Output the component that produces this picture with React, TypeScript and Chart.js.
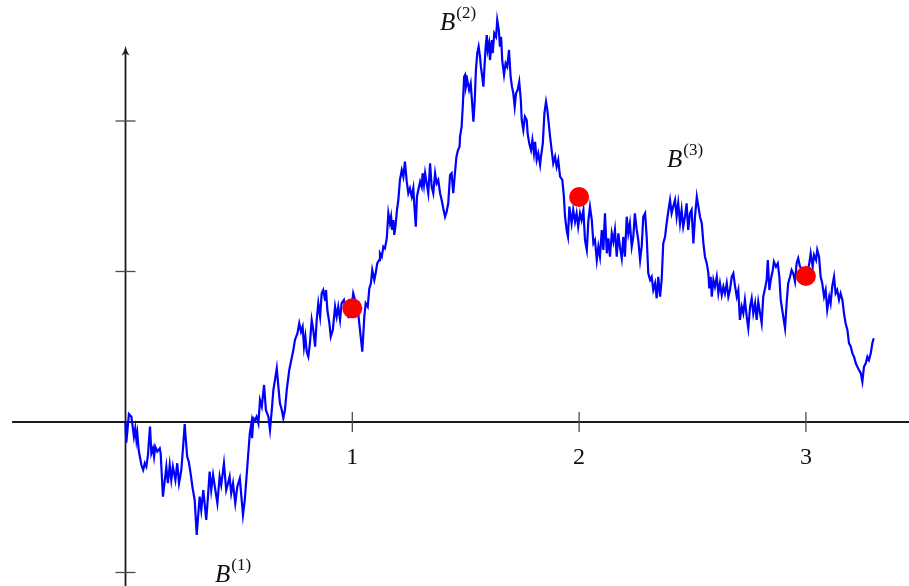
import React, { useEffect, useRef } from "react";
import { Chart, registerables } from "chart.js";

Chart.register(...registerables);

// Sample path of a Brownian motion B(t), t in [0, 3.3]
const brownianPath: [number, number][] = [
  [0, 0], [0.0035, -0.138], [0.015, 0.053], [0.026, 0.035], [0.037, -0.098], [0.043, -0.042], [0.048, -0.12], [0.052, -0.075], [0.058, -0.186], [0.07, -0.286], [0.078, -0.319],
  [0.085, -0.274], [0.092, -0.297], [0.099, -0.219], [0.108, -0.031], [0.114, -0.208], [0.121, -0.175], [0.126, -0.231], [0.131, -0.164], [0.14, -0.197], [0.151, -0.175],
  [0.155, -0.208], [0.165, -0.496], [0.18, -0.297], [0.187, -0.407], [0.195, -0.286], [0.202, -0.385], [0.209, -0.297], [0.22, -0.385], [0.228, -0.274], [0.236, -0.407],
  [0.246, -0.319], [0.254, -0.164], [0.261, -0.013], [0.265, -0.098], [0.272, -0.231], [0.279, -0.264], [0.287, -0.341], [0.296, -0.441], [0.305, -0.518], [0.314, -0.751],
  [0.32, -0.629], [0.327, -0.496], [0.334, -0.585], [0.343, -0.452], [0.356, -0.651], [0.364, -0.485], [0.371, -0.33], [0.378, -0.452], [0.386, -0.352], [0.405, -0.54],
  [0.415, -0.363], [0.422, -0.419], [0.434, -0.274], [0.444, -0.452], [0.452, -0.407], [0.459, -0.363], [0.466, -0.474], [0.474, -0.407], [0.484, -0.54], [0.493, -0.43],
  [0.504, -0.374], [0.518, -0.618], [0.526, -0.518], [0.537, -0.297], [0.548, -0.075], [0.555, -0.009], [0.558, -0.108], [0.564, 0.025], [0.571, 0.013], [0.578, 0.035],
  [0.586, -0.009], [0.593, 0.146], [0.601, 0.102], [0.611, 0.246], [0.619, 0.08], [0.63, 0.035], [0.637, -0.053], [0.645, 0.08], [0.652, 0.213], [0.659, 0.279],
  [0.667, 0.357], [0.674, 0.235], [0.681, 0.124], [0.689, 0.08], [0.696, 0.025], [0.703, 0.08], [0.711, 0.213], [0.722, 0.346], [0.728, 0.39], [0.74, 0.478],
  [0.747, 0.545], [0.758, 0.589], [0.766, 0.656], [0.774, 0.6], [0.781, 0.633], [0.787, 0.5], [0.793, 0.567], [0.799, 0.467], [0.806, 0.434], [0.813, 0.523],
  [0.821, 0.678], [0.828, 0.611], [0.836, 0.5], [0.843, 0.678], [0.85, 0.789], [0.858, 0.7], [0.865, 0.855], [0.872, 0.877], [0.88, 0.811], [0.884, 0.877],
  [0.89, 0.744], [0.899, 0.656], [0.905, 0.567], [0.914, 0.611], [0.924, 0.766], [0.931, 0.7], [0.938, 0.766], [0.946, 0.678], [0.953, 0.789], [0.963, 0.811],
  [0.972, 0.722], [0.982, 0.7], [0.997, 0.766], [1.004, 0.855], [1.012, 0.811], [1.026, 0.722], [1.034, 0.611], [1.044, 0.467], [1.053, 0.7], [1.059, 0.789],
  [1.068, 0.766], [1.075, 0.888], [1.082, 0.922], [1.088, 1.01], [1.097, 0.944], [1.103, 0.988], [1.11, 1.054], [1.118, 1.076], [1.122, 1.121], [1.13, 1.098],
  [1.137, 1.165], [1.144, 1.154], [1.152, 1.221], [1.159, 1.387], [1.166, 1.32], [1.171, 1.364], [1.176, 1.276], [1.181, 1.342], [1.185, 1.243], [1.191, 1.309],
  [1.197, 1.409], [1.203, 1.475], [1.21, 1.608], [1.218, 1.674], [1.225, 1.63], [1.232, 1.73], [1.24, 1.597], [1.247, 1.52], [1.254, 1.553], [1.262, 1.497],
  [1.269, 1.553], [1.273, 1.453], [1.28, 1.298], [1.285, 1.497], [1.291, 1.542], [1.299, 1.597], [1.306, 1.563], [1.31, 1.653], [1.316, 1.575], [1.321, 1.653],
  [1.328, 1.586], [1.335, 1.52], [1.343, 1.719], [1.35, 1.563], [1.357, 1.52], [1.365, 1.653], [1.372, 1.586], [1.379, 1.608], [1.387, 1.52], [1.394, 1.475],
  [1.401, 1.42], [1.409, 1.364], [1.416, 1.397], [1.423, 1.453], [1.431, 1.641], [1.438, 1.653], [1.445, 1.52], [1.453, 1.661], [1.459, 1.761], [1.466, 1.807],
  [1.473, 1.829], [1.475, 1.896], [1.482, 1.962], [1.487, 2.095], [1.493, 2.294], [1.497, 2.306], [1.501, 2.228], [1.507, 2.272], [1.515, 2.206], [1.522, 2.25],
  [1.528, 2.128], [1.534, 1.995], [1.54, 2.14], [1.545, 2.339], [1.551, 2.45], [1.557, 2.494], [1.563, 2.427], [1.567, 2.361], [1.573, 2.294], [1.578, 2.228],
  [1.582, 2.339], [1.588, 2.494], [1.593, 2.571], [1.597, 2.472], [1.603, 2.516], [1.607, 2.405], [1.615, 2.538], [1.619, 2.45], [1.626, 2.583], [1.634, 2.56],
  [1.639, 2.671], [1.646, 2.605], [1.651, 2.494], [1.656, 2.56], [1.661, 2.405], [1.669, 2.306], [1.676, 2.383], [1.683, 2.361], [1.691, 2.472], [1.698, 2.294],
  [1.704, 2.228], [1.71, 2.184], [1.716, 2.095], [1.722, 2.184], [1.729, 2.206], [1.736, 2.261], [1.743, 2.14], [1.747, 2.007], [1.754, 1.94], [1.761, 2.029],
  [1.769, 2.007], [1.773, 1.918], [1.78, 1.852], [1.788, 1.807], [1.794, 1.874], [1.801, 1.785], [1.806, 1.862], [1.813, 1.741], [1.82, 1.785], [1.828, 1.708],
  [1.832, 1.763], [1.84, 1.852], [1.847, 2.051], [1.854, 2.128], [1.86, 2.073], [1.866, 1.985], [1.872, 1.896], [1.879, 1.807], [1.886, 1.719], [1.894, 1.763],
  [1.901, 1.696], [1.908, 1.741], [1.916, 1.63], [1.926, 1.608], [1.933, 1.497], [1.938, 1.364], [1.945, 1.276], [1.951, 1.231], [1.957, 1.431], [1.967, 1.32],
  [1.974, 1.409], [1.982, 1.331], [1.989, 1.387], [1.996, 1.298], [2.004, 1.387], [2.011, 1.342], [2.019, 1.409], [2.026, 1.209], [2.034, 1.143], [2.041, 1.342],
  [2.048, 1.431], [2.056, 1.342], [2.063, 1.187], [2.07, 1.209], [2.078, 1.076], [2.085, 1.165], [2.092, 1.098], [2.1, 1.276], [2.107, 1.143], [2.114, 1.387],
  [2.122, 1.121], [2.129, 1.221], [2.136, 1.098], [2.144, 1.254], [2.151, 1.198], [2.158, 1.276], [2.166, 1.098], [2.173, 1.254], [2.18, 1.165], [2.188, 1.088],
  [2.195, 1.231], [2.202, 1.098], [2.21, 1.364], [2.217, 1.254], [2.224, 1.32], [2.232, 1.165], [2.239, 1.231], [2.246, 1.387], [2.254, 1.276], [2.261, 1.209],
  [2.269, 1.076], [2.276, 1.165], [2.283, 1.364], [2.291, 1.387], [2.298, 1.231], [2.305, 0.988], [2.313, 0.944], [2.32, 0.965], [2.327, 0.877], [2.335, 0.922],
  [2.342, 0.822], [2.349, 0.965], [2.357, 0.833], [2.364, 0.944], [2.371, 1.187], [2.379, 1.231], [2.386, 1.32], [2.393, 1.397], [2.401, 1.475], [2.408, 1.387],
  [2.415, 1.431], [2.423, 1.475], [2.43, 1.364], [2.437, 1.453], [2.445, 1.32], [2.452, 1.409], [2.459, 1.298], [2.467, 1.364], [2.474, 1.453], [2.481, 1.276],
  [2.489, 1.387], [2.496, 1.409], [2.504, 1.187], [2.511, 1.364], [2.519, 1.497], [2.526, 1.431], [2.533, 1.364], [2.541, 1.32], [2.548, 1.187], [2.555, 1.098],
  [2.563, 1.054], [2.57, 0.988], [2.574, 0.888], [2.58, 0.965], [2.585, 0.833], [2.592, 0.944], [2.599, 0.899], [2.607, 0.965], [2.614, 0.855], [2.621, 0.922],
  [2.629, 0.844], [2.636, 0.899], [2.643, 0.855], [2.651, 0.922], [2.658, 0.833], [2.665, 0.877], [2.673, 0.965], [2.68, 0.988], [2.687, 0.91], [2.695, 0.833],
  [2.702, 0.877], [2.709, 0.678], [2.717, 0.766], [2.724, 0.722], [2.731, 0.811], [2.739, 0.7], [2.746, 0.623], [2.754, 0.766], [2.761, 0.822], [2.768, 0.722],
  [2.776, 0.789], [2.783, 0.678], [2.79, 0.799], [2.798, 0.722], [2.805, 0.656], [2.812, 0.833], [2.82, 0.888], [2.827, 0.944], [2.832, 1.076], [2.839, 0.877],
  [2.845, 0.944], [2.854, 1.01], [2.859, 1.065], [2.868, 1.032], [2.876, 1.054], [2.883, 0.965], [2.889, 0.811], [2.898, 0.722], [2.908, 0.623], [2.915, 0.789],
  [2.922, 0.922], [2.93, 0.965], [2.937, 1.01], [2.944, 0.988], [2.952, 0.932], [2.959, 1.054], [2.966, 1.088], [2.974, 1.032], [2.989, 1.01], [3.003, 0.965],
  [3.015, 1.054], [3.021, 1.121], [3.03, 1.032], [3.036, 1.11], [3.045, 1.076], [3.05, 1.143], [3.058, 1.098], [3.065, 0.965], [3.072, 0.922], [3.08, 0.833],
  [3.087, 0.877], [3.094, 0.744], [3.103, 0.833], [3.109, 0.789], [3.116, 0.899], [3.124, 0.965], [3.131, 0.855], [3.138, 0.877], [3.146, 0.811], [3.153, 0.855],
  [3.161, 0.811], [3.168, 0.722], [3.175, 0.656], [3.183, 0.611], [3.19, 0.523], [3.198, 0.5], [3.205, 0.456], [3.212, 0.434], [3.22, 0.39], [3.227, 0.367],
  [3.234, 0.346], [3.242, 0.324], [3.249, 0.268], [3.256, 0.367], [3.264, 0.39], [3.271, 0.434], [3.278, 0.412], [3.286, 0.456], [3.293, 0.523], [3.299, 0.556],
];

// Observation times and the values B(1), B(2), B(3)
const markTimes = [1, 2, 3];
const markValues = [0.755, 1.495, 0.97];

// Axis ticks
const xTickValues = [1, 2, 3];
const xTickLabels = ["1", "2", "3"];
const yTickValues = [-1, 1, 2];

// Path labels B^(k)
const pathLabelIndex = ["(1)", "(2)", "(3)"];

const SERIF = '"Liberation Serif", "DejaVu Serif", serif';

const axesPlugin = {
  id: "bmAxes",
  beforeDatasetsDraw(chart: any) {
    const { ctx, chartArea } = chart;
    const xs = chart.scales.x;
    const ys = chart.scales.y;
    const x0 = xs.getPixelForValue(0);
    const y0 = ys.getPixelForValue(0);
    ctx.save();
    ctx.strokeStyle = "#1b1b1b";
    ctx.lineWidth = 1.8;
    // horizontal axis
    ctx.beginPath();
    ctx.moveTo(xs.getPixelForValue(-0.5), y0);
    ctx.lineTo(chartArea.right, y0);
    ctx.stroke();
    // vertical axis with arrow head
    const yTop = ys.getPixelForValue(2.5);
    ctx.beginPath();
    ctx.moveTo(x0, chartArea.bottom);
    ctx.lineTo(x0, yTop + 5);
    ctx.stroke();
    ctx.fillStyle = "#1b1b1b";
    ctx.beginPath();
    ctx.moveTo(x0, yTop);
    ctx.quadraticCurveTo(x0 + 1, yTop + 6, x0 + 4, yTop + 10);
    ctx.lineTo(x0, yTop + 7.5);
    ctx.lineTo(x0 - 4, yTop + 10);
    ctx.quadraticCurveTo(x0 - 1, yTop + 6, x0, yTop);
    ctx.closePath();
    ctx.fill();

    // tick marks
    ctx.strokeStyle = "#4a4a4a";
    ctx.lineWidth = 1.3;
    xTickValues.forEach((v) => {
      const p = xs.getPixelForValue(v);
      ctx.beginPath();
      ctx.moveTo(p, y0 - 10);
      ctx.lineTo(p, y0 + 10);
      ctx.stroke();
    });
    yTickValues.forEach((v) => {
      const p = ys.getPixelForValue(v);
      ctx.beginPath();
      ctx.moveTo(x0 - 10, p);
      ctx.lineTo(x0 + 10, p);
      ctx.stroke();
    });

    // tick labels
    ctx.fillStyle = "#111";
    ctx.font = `24px ${SERIF}`;
    ctx.textAlign = "center";
    ctx.textBaseline = "alphabetic";
    xTickValues.forEach((v, i) => {
      ctx.fillText(xTickLabels[i], xs.getPixelForValue(v), y0 + 42);
    });
    ctx.restore();
  },
};

const labelPlugin = {
  id: "bmLabels",
  afterDatasetsDraw(chart: any, _args: any, opts: any) {
    const { ctx } = chart;
    const xs = chart.scales.x;
    const ys = chart.scales.y;
    ctx.save();
    ctx.fillStyle = "#111";
    ctx.textAlign = "left";
    ctx.textBaseline = "alphabetic";
    (opts.anchors || []).forEach((a: { t: number; b: number }, i: number) => {
      const px = xs.getPixelForValue(a.t);
      const py = ys.getPixelForValue(a.b);
      ctx.font = `italic 25px ${SERIF}`;
      ctx.fillText("B", px, py);
      const w = ctx.measureText("B").width;
      ctx.font = `17px ${SERIF}`;
      ctx.fillText(pathLabelIndex[i], px + w + 1, py - 12);
    });
    ctx.restore();
  },
};

export default function App() {
  const canvasRef = useRef<HTMLCanvasElement | null>(null);

  useEffect(() => {
    if (!canvasRef.current) return;
    const chart = new Chart(canvasRef.current, {
      type: "scatter",
      data: {
        datasets: [
          {
            label: "B(t) at t = 1, 2, 3",
            data: markTimes.map((t, i) => ({ x: t, y: markValues[i] })),
            backgroundColor: "#ff0000",
            borderWidth: 0,
            pointRadius: 10,
            showLine: false,
            order: 0,
          },
          {
            label: "B(t)",
            data: brownianPath.map(([t, b]) => ({ x: t, y: b })),
            borderColor: "#0000ff",
            borderWidth: 2.2,
            pointRadius: 0,
            showLine: true,
            tension: 0,
            order: 1,
          },
        ],
      },
      options: {
        animation: false,
        responsive: false,
        layout: { padding: 0, autoPadding: false },
        scales: {
          x: { type: "linear", min: -0.5534, max: 3.4546, display: false },
          y: { type: "linear", min: -1.0897, max: 2.804, display: false },
        },
        plugins: {
          legend: { display: false },
          tooltip: { enabled: false },
          bmLabels: {
            anchors: [
              { t: 0.395, b: -1.063 },
              { t: 1.387, b: 2.605 },
              { t: 2.388, b: 1.694 },
            ],
          },
        } as any,
      },
      plugins: [axesPlugin, labelPlugin],
    });
    return () => chart.destroy();
  }, []);

  return (
    <div style={{ position: "fixed", left: 0, top: 0, width: 909, height: 586, background: "#fff" }}>
      <canvas ref={canvasRef} width={909} height={586} style={{ display: "block" }} />
    </div>
  );
}
